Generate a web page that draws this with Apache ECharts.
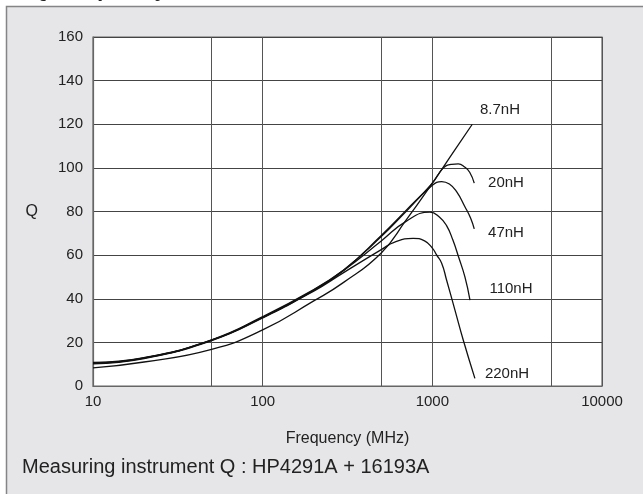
<!DOCTYPE html>
<html>
<head>
<meta charset="utf-8">
<script src="https://cdn.jsdelivr.net/npm/echarts@6/dist/echarts.min.js"></script>
<style>
html,body{margin:0;padding:0;background:#fff;}
#c{width:643px;height:494px;}
</style>
</head>
<body>
<div id="c"></div>
<script>
// ---- data ----
const xTicks = [10, 100, 1000, 10000];
const extraGrid = [50, 500, 5000];
const yTicks = [0, 20, 40, 60, 80, 100, 120, 140, 160];

const f87 = [10, 20, 50, 100, 200, 300, 500, 700, 1000, 1358, 1720];
const q87 = [8.3, 11, 16.8, 25.7, 39, 47.5, 61, 76, 93, 108.3, 120];

const f20 = [10, 20, 50, 100, 200, 300, 500, 700, 1000, 1159, 1300, 1422, 1550, 1660, 1766];
const q20 = [10.2, 12.6, 20.8, 31.2, 43.8, 53, 69, 80.5, 93, 99.9, 101.6, 101.8, 100.4, 98, 93];

const f47 = [10, 20, 50, 100, 200, 300, 500, 700, 1000, 1135, 1260, 1390, 1556, 1680, 1766];
const q47 = [10.5, 12.8, 21, 31.5, 44, 53.2, 68.5, 80, 92, 93.7, 92.6, 89.1, 82.2, 77, 72];

const f110 = [10, 20, 50, 100, 200, 300, 500, 700, 968, 1100, 1213, 1320, 1430, 1556, 1667];
const q110 = [10.8, 13, 21.2, 31.8, 44.2, 53, 66.5, 75.5, 79.7, 77.5, 73.5, 67, 59, 50, 39.4];

const f220 = [10, 20, 50, 100, 200, 300, 500, 600, 771, 900, 1000, 1059, 1135, 1213, 1358, 1521, 1782];
const q220 = [10.6, 12.9, 21, 31.5, 43.5, 52, 62.5, 66, 67.7, 66.5, 63.2, 60.1, 56.3, 48.6, 34.9, 21.1, 3.5];

const seriesNames = ['8.7nH', '20nH', '47nH', '110nH', '220nH'];
const seriesF = [f87, f20, f47, f110, f220];
const seriesQ = [q87, q20, q47, q110, q220];

const titleText = 'Q-Frequency Characteristics';
const xName = 'Frequency (MHz)';
const yName = 'Q';
const noteText = 'Measuring instrument Q : HP4291A + 16193A';

// ---- chart ----
const FONT = '"Liberation Sans", Arial, Helvetica, sans-serif';
const chart = echarts.init(document.getElementById('c'), null, {renderer: 'canvas'});

const labelPos = [[500, 110], [506, 183], [506, 233], [511, 289], [507, 374]];

const series = seriesNames.map((name, i) => {
  const s = {
    name: name,
    type: 'line',
    data: seriesF[i].map((f, j) => [f, seriesQ[i][j]]),
    smooth: 0.5,
    showSymbol: false,
    symbol: 'none',
    lineStyle: {color: '#111', width: 1.3},
    animation: false,
    z: 5
  };
  if (i === 0) {
    s.markLine = {
      silent: true,
      symbol: 'none',
      animation: false,
      label: {show: false},
      lineStyle: {color: '#555', width: 1, type: 'solid'},
      data: extraGrid.map(v => ({xAxis: v}))
    };
  }
  return s;
});

const graphics = [
  {
    type: 'rect', z: -10, silent: true,
    shape: {x: 6.5, y: 6.5, width: 700, height: 600},
    style: {fill: '#e6e6e8', stroke: '#858585', lineWidth: 1.5}
  },
  {
    type: 'text', z: 10, silent: true,
    x: 31, y: 0.5,
    style: {text: titleText, font: 'bold 22px ' + FONT, fill: '#222', textVerticalAlign: 'bottom', verticalAlign: 'bottom'}
  },
  {
    type: 'text', z: 10, silent: true,
    x: 22, y: 467,
    style: {text: noteText, font: '20px ' + FONT, fill: '#222', textVerticalAlign: 'middle', verticalAlign: 'middle'}
  }
].concat(seriesNames.map((n, i) => ({
  type: 'text', z: 10, silent: true,
  x: labelPos[i][0], y: labelPos[i][1],
  style: {text: n, font: '15px ' + FONT, fill: '#222', textAlign: 'center', align: 'center', textVerticalAlign: 'middle', verticalAlign: 'middle'}
})));

chart.setOption({
  animation: false,
  backgroundColor: 'transparent',
  grid: {
    left: 93, right: 41, top: 37, bottom: 108,
    show: true, backgroundColor: '#ffffff', borderColor: '#666', borderWidth: 1.2
  },
  xAxis: {
    type: 'log', logBase: 10, min: xTicks[0], max: xTicks[xTicks.length - 1],
    name: xName, nameLocation: 'middle', nameGap: 45,
    nameTextStyle: {fontFamily: FONT, fontSize: 16, color: '#222'},
    axisLine: {show: true, lineStyle: {color: '#666', width: 1.2}},
    axisTick: {show: false},
    axisLabel: {fontFamily: FONT, fontSize: 15, color: '#222', margin: 8, formatter: v => String(Math.round(v))},
    splitLine: {show: true, lineStyle: {color: '#555', width: 1}}
  },
  yAxis: {
    type: 'value', min: yTicks[0], max: yTicks[yTicks.length - 1], interval: 20,
    name: yName, nameLocation: 'middle', nameGap: 55, nameRotate: 0,
    nameTextStyle: {fontFamily: FONT, fontSize: 16, color: '#222'},
    axisLine: {show: true, lineStyle: {color: '#666', width: 1.2}},
    axisTick: {show: false},
    axisLabel: {fontFamily: FONT, fontSize: 15, color: '#222', margin: 10},
    splitLine: {show: true, lineStyle: {color: '#444', width: 1}}
  },
  graphic: graphics,
  series: series
});
</script>
</body>
</html>
